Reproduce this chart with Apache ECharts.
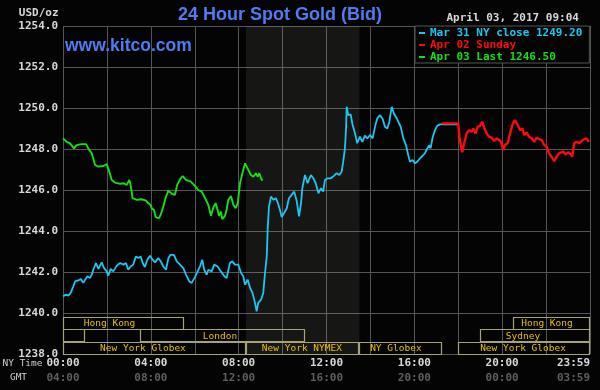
<!DOCTYPE html>
<html>
<head>
<meta charset="utf-8">
<script src="https://cdn.jsdelivr.net/npm/echarts@6/dist/echarts.min.js"></script>
<style>
html,body{margin:0;padding:0;background:#040404;}
#c{width:600px;height:390px;}
</style>
</head>
<body>
<div id="c"></div>
<script>
// ---------- data (hours NY time, USD/oz) ----------
const seriesNames = ['Mar 31 NY close 1249.20', 'Apr 02 Sunday', 'Apr 03 Last 1246.50'];
const seriesColors = ['#1cc6f0', '#ff0a0a', '#12e012'];

const mar31 = [
[0.00,1240.81],[0.14,1240.90],[0.24,1240.85],[0.35,1240.98],[0.47,1241.30],[0.55,1241.54],[0.70,1241.59],[0.81,1241.66],
[0.92,1241.47],[1.00,1241.38],[1.11,1241.79],[1.23,1241.71],[1.31,1241.87],[1.38,1242.11],[1.50,1242.44],[1.61,1242.15],
[1.76,1242.47],[1.87,1242.19],[1.99,1242.03],[2.06,1241.82],[2.17,1242.15],[2.29,1242.03],[2.45,1242.31],[2.60,1242.44],
[2.75,1242.36],[2.87,1242.44],[2.97,1242.11],[3.08,1242.27],[3.20,1242.36],[3.32,1242.76],[3.43,1242.68],[3.54,1242.76],
[3.63,1242.44],[3.73,1242.24],[3.84,1242.60],[3.96,1242.79],[4.08,1242.60],[4.19,1242.47],[4.34,1242.68],[4.45,1242.52],
[4.57,1242.27],[4.69,1242.11],[4.80,1242.68],[4.90,1242.84],[5.05,1242.84],[5.18,1242.52],[5.33,1242.36],[5.48,1242.19],
[5.60,1241.87],[5.75,1241.54],[5.86,1241.47],[6.01,1241.75],[6.13,1242.03],[6.24,1242.27],[6.34,1242.60],[6.43,1242.11],
[6.54,1241.87],[6.62,1242.11],[6.77,1242.03],[6.89,1242.36],[7.04,1242.27],[7.19,1242.03],[7.35,1241.79],[7.45,1241.71],
[7.60,1242.44],[7.71,1242.52],[7.83,1242.36],[7.98,1242.36],[8.11,1241.95],[8.21,1241.79],[8.29,1241.38],[8.41,1241.63],
[8.52,1241.22],[8.62,1241.01],[8.71,1240.65],[8.82,1240.08],[8.89,1240.49],[9.02,1240.65],[9.12,1240.98],[9.20,1241.95],
[9.28,1242.76],[9.32,1244.06],[9.38,1245.19],[9.47,1245.68],[9.58,1245.52],[9.69,1245.60],[9.78,1245.39],[9.88,1245.03],
[9.96,1244.68],[10.08,1244.90],[10.19,1245.11],[10.29,1245.60],[10.41,1245.76],[10.53,1245.92],[10.64,1245.48],[10.75,1244.71],
[10.84,1245.36],[10.90,1246.09],[11.02,1246.73],[11.14,1246.33],[11.29,1246.73],[11.40,1246.57],[11.51,1246.33],[11.63,1245.84],
[11.75,1246.09],[11.85,1245.92],[11.93,1246.49],[12.05,1246.57],[12.20,1246.57],[12.35,1246.70],[12.46,1246.82],[12.58,1246.73],
[12.69,1246.89],[12.76,1247.38],[12.84,1248.03],[12.89,1249.00],[12.92,1250.06],[12.99,1249.65],[13.10,1249.69],[13.19,1249.17],
[13.30,1248.76],[13.40,1248.28],[13.52,1248.60],[13.63,1248.35],[13.75,1248.65],[13.86,1248.52],[13.98,1248.68],[14.10,1248.52],
[14.21,1249.08],[14.31,1249.49],[14.44,1249.65],[14.56,1249.46],[14.66,1249.08],[14.77,1249.00],[14.86,1249.33],[14.97,1250.06],
[15.07,1249.73],[15.20,1249.49],[15.27,1249.57],[15.38,1249.08],[15.50,1248.52],[15.62,1248.19],[15.72,1247.71],[15.80,1247.38],
[15.92,1247.46],[16.03,1247.30],[16.13,1247.38],[16.26,1247.55],[16.38,1247.67],[16.48,1247.79],[16.59,1248.03],[16.68,1248.19],
[16.74,1248.03],[16.84,1248.60],[16.94,1248.92],[17.04,1249.13],[17.17,1249.20],[18.00,1249.20]
];

const apr02 = [
[17.24,1249.25],[18.00,1249.25],[18.06,1248.52],[18.12,1248.19],[18.18,1247.84],[18.25,1248.19],[18.31,1248.44],[18.38,1248.76],
[18.49,1248.92],[18.61,1248.84],[18.68,1249.00],[18.79,1248.76],[18.88,1249.08],[18.99,1249.13],[19.09,1249.33],[19.19,1249.00],
[19.30,1248.76],[19.40,1248.60],[19.52,1248.55],[19.64,1248.39],[19.75,1248.52],[19.85,1248.44],[19.95,1248.35],[20.05,1247.95],
[20.13,1248.19],[20.25,1248.28],[20.36,1248.76],[20.46,1249.17],[20.58,1249.41],[20.71,1249.17],[20.81,1248.92],[20.92,1249.00],
[21.01,1248.68],[21.12,1248.81],[21.22,1248.60],[21.34,1248.52],[21.46,1248.35],[21.57,1248.55],[21.68,1248.48],[21.80,1248.44],
[21.92,1248.19],[22.03,1248.11],[22.13,1247.79],[22.25,1247.62],[22.37,1247.41],[22.48,1247.62],[22.59,1247.79],[22.68,1247.71],
[22.78,1247.87],[22.89,1247.74],[23.01,1247.84],[23.13,1247.74],[23.19,1247.62],[23.28,1248.28],[23.39,1248.35],[23.50,1248.28],
[23.62,1248.39],[23.73,1248.48],[23.84,1248.52],[23.95,1248.35]
];

const apr03 = [
[0.00,1248.52],[0.17,1248.35],[0.32,1248.27],[0.50,1248.03],[0.62,1248.19],[0.85,1248.24],[1.05,1248.24],[1.15,1248.03],
[1.31,1247.79],[1.46,1247.22],[1.61,1247.14],[1.84,1247.17],[1.99,1247.27],[2.06,1247.06],[2.22,1246.49],[2.37,1246.36],
[2.60,1246.30],[2.75,1246.33],[2.90,1246.25],[3.02,1246.49],[3.08,1246.25],[3.17,1245.60],[3.36,1245.52],[3.58,1245.55],
[3.78,1245.48],[3.88,1245.36],[3.99,1245.27],[4.04,1245.11],[4.14,1245.03],[4.22,1244.68],[4.37,1244.63],[4.45,1244.79],
[4.57,1245.19],[4.69,1245.68],[4.80,1245.97],[4.95,1245.81],[5.10,1245.76],[5.20,1246.25],[5.36,1246.57],[5.45,1246.68],
[5.60,1246.49],[5.82,1246.41],[6.01,1246.20],[6.16,1246.00],[6.32,1245.92],[6.47,1245.60],[6.62,1245.27],[6.74,1244.74],
[6.85,1245.16],[6.95,1245.36],[7.04,1245.03],[7.10,1244.74],[7.19,1244.95],[7.25,1244.58],[7.38,1244.74],[7.45,1245.03],
[7.53,1245.52],[7.65,1245.71],[7.76,1245.27],[7.86,1245.11],[7.96,1245.36],[8.06,1246.33],[8.17,1246.82],[8.29,1247.30],
[8.37,1247.38],[8.44,1246.98],[8.56,1246.73],[8.67,1246.65],[8.78,1246.82],[8.87,1246.65],[8.94,1246.82],[9.02,1246.57],
[9.08,1246.45]
];

// NYMEX pit session shading (hours)
const shadeHours = [8.333, 13.5];

// trading sessions: [label, start hour, end hour, row (0 = bottom), label centre hour]
const sessions = [
  ['Hong Kong', 0, 5.5, 2, 2.12],
  ['Hong Kong', 20.5, 24, 2, 22.04],
  ['', 0, 1, 1, 0.5],
  ['London', 3.5, 11, 1, 7.15],
  ['Sydney', 19, 24, 1, 20.95],
  ['New York Globex', 0, 8.333, 0, 3.64],
  ['New York NYMEX', 8.333, 13.5, 0, 10.88],
  ['NY Globex', 13.5, 17.25, 0, 15.16],
  ['New York Globex', 18, 24, 0, 20.95]
];

const nyTickLabels = ['00:00', '04:00', '08:00', '12:00', '16:00', '20:00', '23:59'];
const gmtTickLabels = ['04:00', '08:00', '12:00', '16:00', '20:00', '00:00', '03:59'];

// ---------- chart ----------
const MONO = '"DejaVu Sans Mono", "Liberation Mono", monospace';
const SANS = '"Liberation Sans", Arial, sans-serif';
const chart = echarts.init(document.getElementById('c'), null, {renderer: 'canvas'});
const Y_MIN = 1238, Y_MAX = 1254;
const ROW_H = 12.3;

const option = {
  backgroundColor: '#040404',
  animation: false,
  grid: {left: 63, right: 10, top: 26, bottom: 36, containLabel: false},
  xAxis: {
    type: 'value', min: 0, max: 24, interval: 2,
    axisLine: {show: false}, axisTick: {show: false},
    splitLine: {show: true, lineStyle: {color: '#555', width: 1}},
    axisLabel: {
      show: true, margin: 2, showMinLabel: true, showMaxLabel: true,
      alignMaxLabel: 'right',
      formatter: function (v) {
        if (v % 4 !== 0) return '';
        const i = v / 4;
        return '{a|' + nyTickLabels[i] + '}\n{b|' + gmtTickLabels[i] + '}';
      },
      rich: {
        a: {fontFamily: MONO, fontSize: 11, fontWeight: 'bold', color: '#d8d8d8', lineHeight: 14.5},
        b: {fontFamily: MONO, fontSize: 11, fontWeight: 'bold', color: '#5e5e5e', lineHeight: 14.5}
      }
    }
  },
  yAxis: {
    type: 'value', min: Y_MIN, max: Y_MAX, interval: 2,
    axisLine: {show: false}, axisTick: {show: false},
    splitLine: {show: true, lineStyle: {color: '#555', width: 1}},
    axisLabel: {
      margin: 5, fontFamily: MONO, fontSize: 11, fontWeight: 'bold', color: '#d8d8d8',
      formatter: v => v.toFixed(1)
    }
  },
  legend: {
    orient: 'vertical', left: 415, top: 26,
    itemWidth: 6, itemHeight: 2, itemGap: 0, icon: 'rect',
    backgroundColor: '#040404', borderColor: '#555', borderWidth: 1,
    padding: [1, 7, 0, 4], selectedMode: false,
    textStyle: {fontFamily: MONO, fontSize: 11, fontWeight: 'bold', lineHeight: 12},
    data: seriesNames.map((n, i) => ({name: n, textStyle: {color: seriesColors[i]}})),
    z: 20
  },
  graphic: [
    {type: 'text', x: 280, y: 15, z: 30,
     style: {text: '24 Hour Spot Gold (Bid)', fill: '#4f7cf2', font: 'bold 18px ' + SANS, align: 'center', verticalAlign: 'middle'}},
    {type: 'text', x: 65, y: 46.5, z: 30,
     style: {text: 'www.kitco.com', fill: '#4f7cf2', font: 'bold 17.5px ' + SANS, align: 'left', verticalAlign: 'middle'}},
    {type: 'text', x: 58.5, y: 13, z: 30,
     style: {text: 'USD/oz', fill: '#d8d8d8', font: 'bold 11px ' + MONO, align: 'right', verticalAlign: 'middle'}},
    {type: 'text', x: 446.5, y: 18.3, z: 30,
     style: {text: 'April 03, 2017 09:04', fill: '#d8d8d8', font: 'bold 11px ' + MONO, align: 'left', verticalAlign: 'middle'}},
    {type: 'text', x: 22.5, y: 364, z: 30,
     style: {text: 'NY Time', fill: '#d0d0d0', font: '9.5px ' + MONO, align: 'center', verticalAlign: 'middle'}},
    {type: 'text', x: 18.5, y: 378, z: 30,
     style: {text: 'GMT', fill: '#d0d0d0', font: '9.5px ' + MONO, align: 'center', verticalAlign: 'middle'}}
  ],
  series: [
    {
      type: 'custom', name: 'shade', z: 1, silent: true, clip: false,
      data: [[shadeHours[0], shadeHours[1]]],
      encode: {x: [0, 1]},
      renderItem: function (params, api) {
        const a = api.coord([api.value(0), Y_MAX]);
        const b = api.coord([api.value(1), Y_MIN]);
        return {type: 'rect', shape: {x: a[0], y: a[1], width: b[0] - a[0], height: b[1] - a[1]},
          style: {fill: 'rgba(255,255,235,0.075)'}};
      }
    },
    {
      type: 'custom', name: 'sessions', z: 3, silent: true, clip: false,
      data: sessions.map(s => [s[1], s[2], s[3], s[4]]),
      encode: {x: [0, 1]},
      renderItem: function (params, api) {
        const s = sessions[params.dataIndex];
        const row = api.value(2);
        const p0 = api.coord([api.value(0), Y_MIN]);
        const p1 = api.coord([api.value(1), Y_MIN]);
        const pl = api.coord([api.value(3), Y_MIN]);
        const yb = p0[1] - row * ROW_H;
        const children = [{
          type: 'rect',
          shape: {x: Math.round(p0[0]) + 0.5, y: Math.round(yb - ROW_H) + 0.5, width: Math.round(p1[0]) - Math.round(p0[0]) - 1, height: Math.round(ROW_H)},
          style: {fill: null, stroke: '#a8a27a', lineWidth: 1.2}
        }];
        if (s[0]) {
          children.push({type: 'text', style: {text: s[0], x: pl[0], y: yb - ROW_H / 2 + 0.5, fill: '#e8c000',
            font: '9.5px ' + MONO, align: 'center', verticalAlign: 'middle'}});
        }
        return {type: 'group', children: children};
      }
    },
    {
      type: 'line', name: seriesNames[0], data: mar31, showSymbol: false, symbol: 'none', z: 4,
      lineStyle: {color: seriesColors[0], width: 1.8}, itemStyle: {color: seriesColors[0]}
    },
    {
      type: 'line', name: seriesNames[1], data: apr02, showSymbol: false, symbol: 'none', z: 5,
      lineStyle: {color: seriesColors[1], width: 2.4}, itemStyle: {color: seriesColors[1]}
    },
    {
      type: 'line', name: seriesNames[2], data: apr03, showSymbol: false, symbol: 'none', z: 6,
      lineStyle: {color: seriesColors[2], width: 1.9}, itemStyle: {color: seriesColors[2]}
    }
  ]
};
chart.setOption(option);
</script>
</body>
</html>
